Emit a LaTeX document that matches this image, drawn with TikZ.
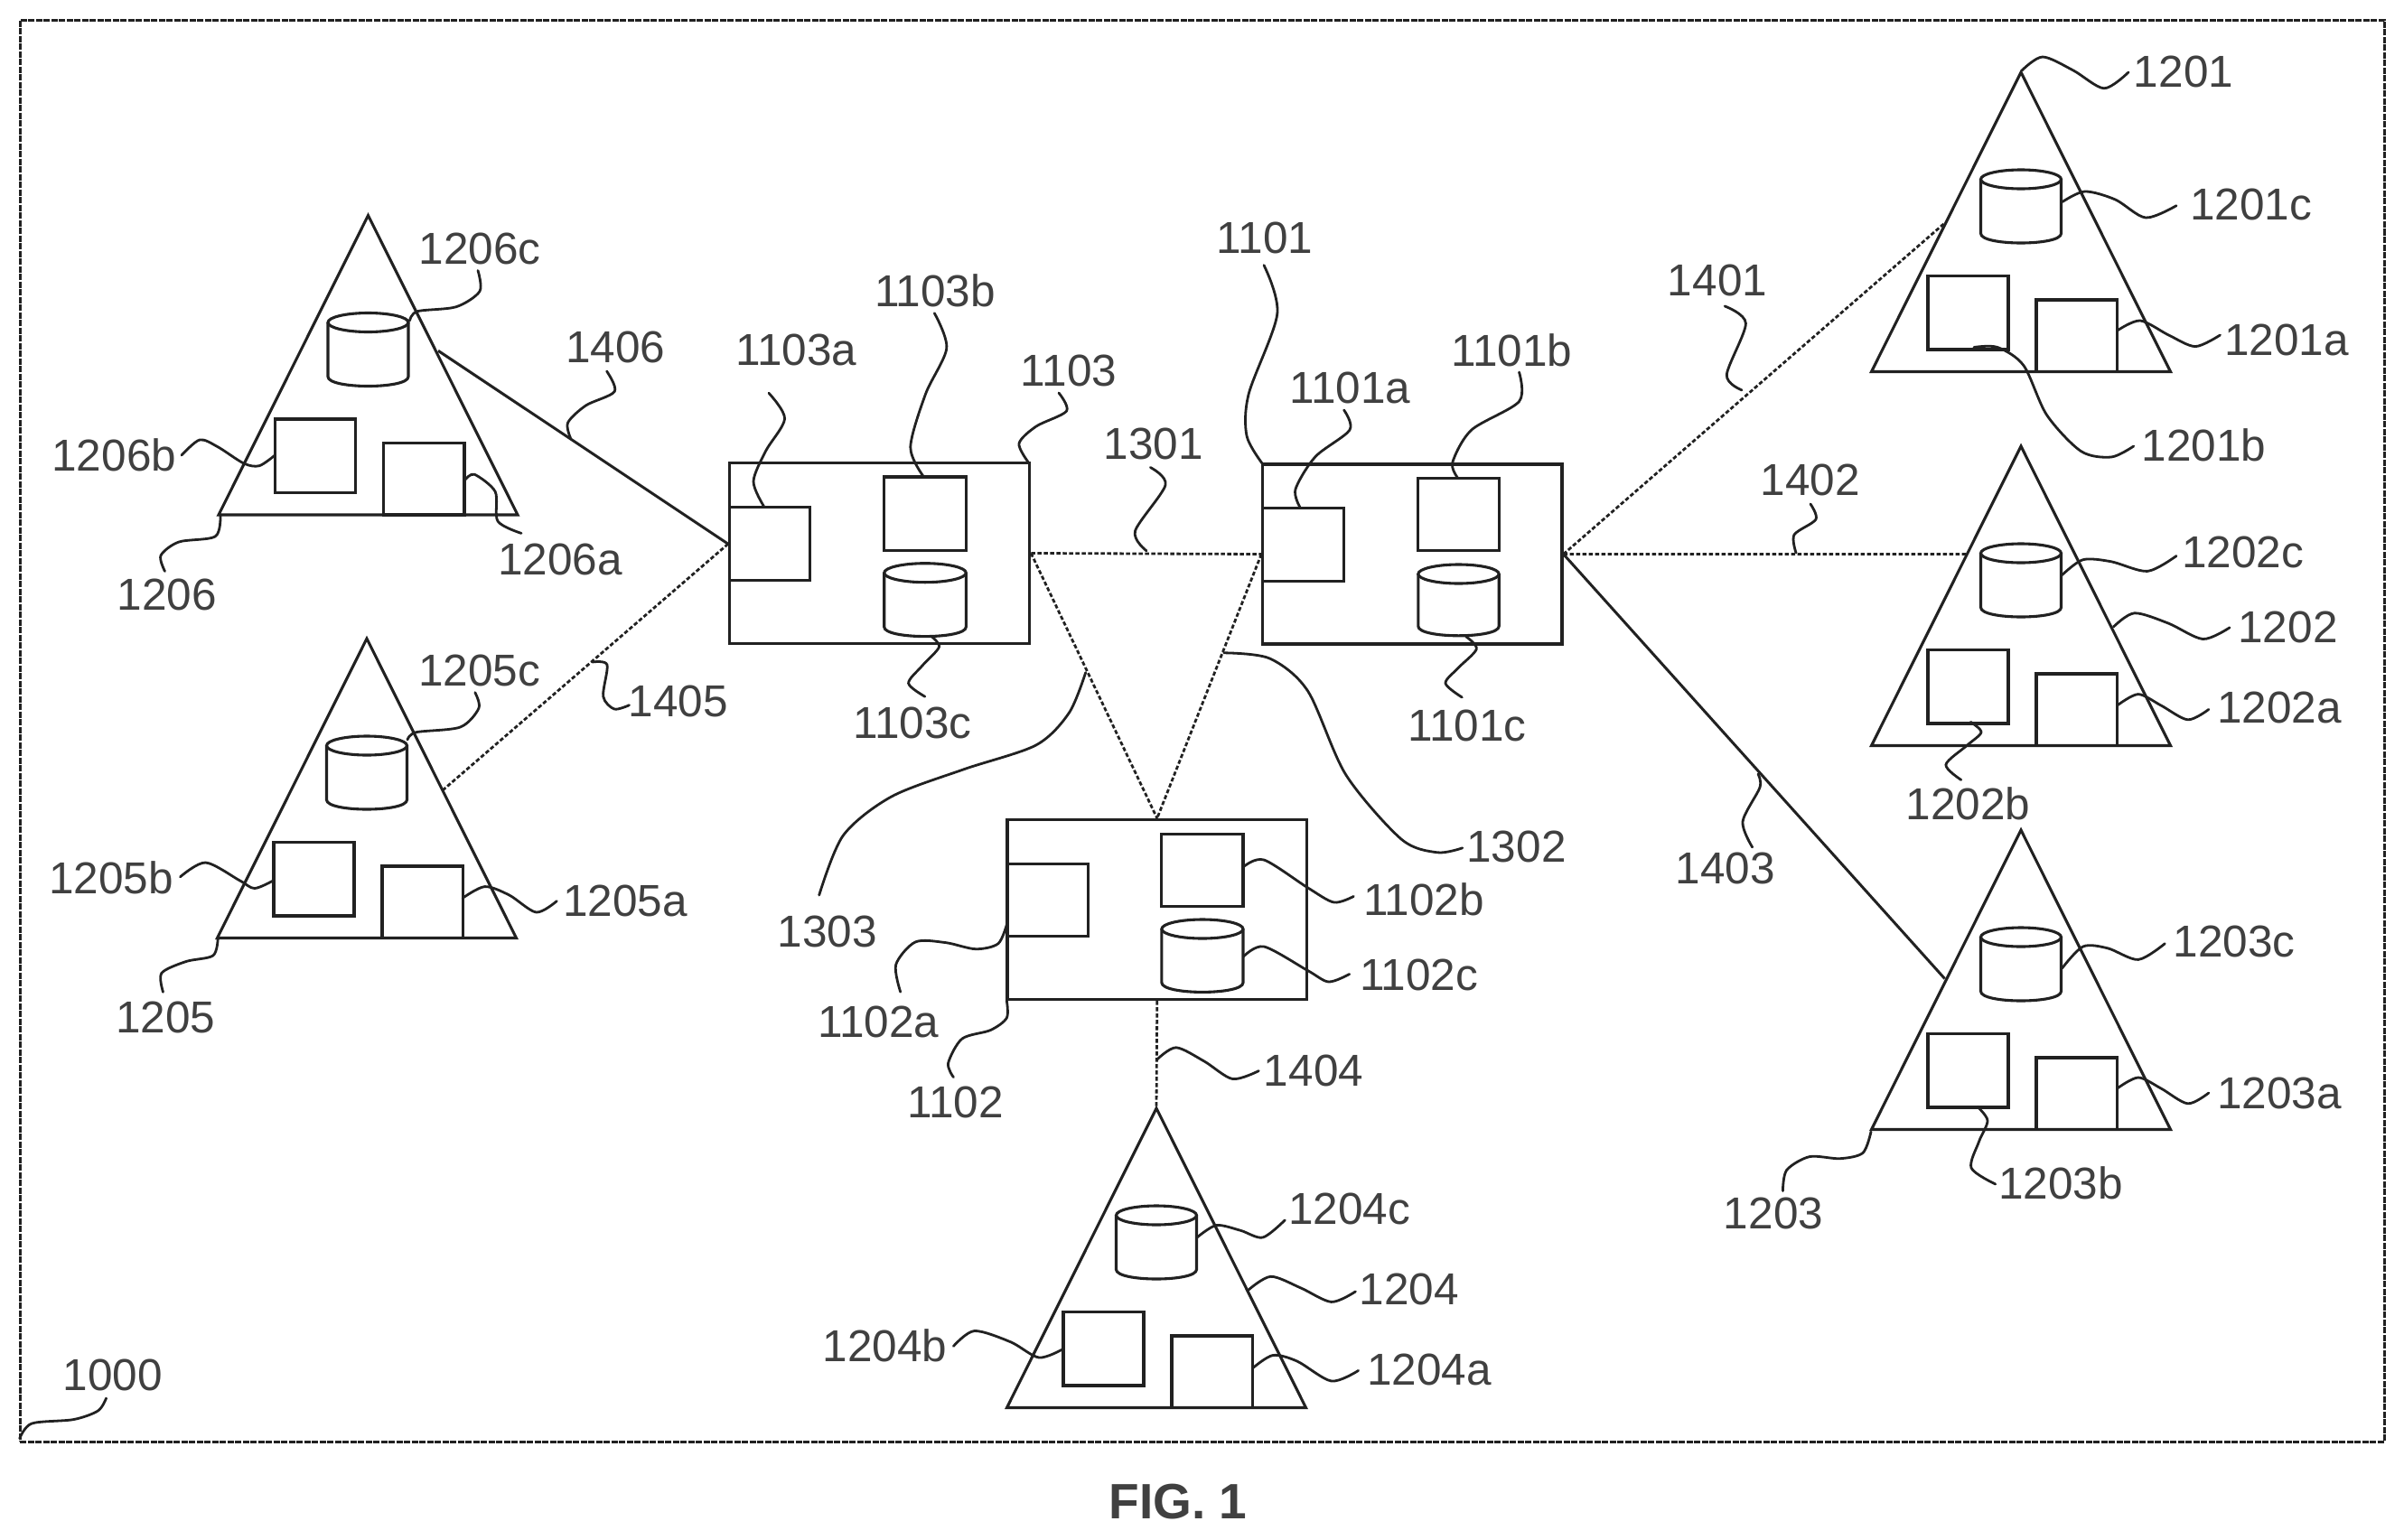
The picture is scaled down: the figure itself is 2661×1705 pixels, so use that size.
\documentclass[tikz,border=0pt]{standalone}
\usepackage{fontspec}
\setmainfont{Liberation Sans}
\usetikzlibrary{calc}
\definecolor{ink}{gray}{0.13}
\definecolor{txt}{gray}{0.25}
\tikzset{
 shp/.style={draw=ink,line width=3.1pt},
 boxs/.style={shp,rectangle,inner sep=0pt},
 framebox/.style={draw=ink,rectangle,inner sep=0pt,line width=3pt,dash pattern=on 7pt off 1.5pt},
 ghost/.style={rectangle,inner sep=0pt},
 link/.style={draw=ink,line width=3pt},
 dot/.style={draw=ink,line width=2.8pt,dash pattern=on 4.5pt off 2.5pt},
 lead/.style={draw=ink,line width=2.8pt,line cap=round},
 lab/.style={text=txt,inner sep=0pt,font=\fontsize{49.5}{52}\selectfont},
}
\newcommand{\sq}[5]{\node[boxs,minimum width={(#4)-(#2)},minimum height={(#5)-(#3)}] (#1) at ({((#2)+(#4))/2},{((#3)+(#5))/2}) {};}
\newcommand{\cyl}[5]{\node[ghost,minimum width={(#4)-(#2)},minimum height={(#5)-(#3)}] (#1) at ({((#2)+(#4))/2},{((#3)+(#5))/2}) {};
 \draw[shp] ({((#2)+(#4))/2},{(#3)+10.5}) ellipse [x radius={((#4)-(#2))/2},y radius=10.5];
 \draw[shp] (#2,{(#3)+10.5}) -- (#2,{(#5)-10.5}) .. controls (#2,{(#5)+3.5}) and (#4,{(#5)+3.5}) .. (#4,{(#5)-10.5}) -- (#4,{(#3)+10.5});}
\newcommand{\tri}[3]{\coordinate (t#1) at (#2,#3);
 \coordinate (t#1l) at ({#2-165.5},{#3+331.5}); \coordinate (t#1r) at ({#2+165.5},{#3+331.5});
 \draw[shp,line join=miter] (t#1)--(t#1l)--(t#1r)--cycle;
 \sq{n#1b}{#2-103}{#3+225.5}{#2-14}{#3+307}
 \sq{n#1a}{#2+17}{#3+252}{#2+106.5}{#3+331.5}
 \cyl{n#1c}{#2-44.5}{#3+108}{#2+44.5}{#3+189}}
\newcommand{\lb}[3]{\node[lab] (l#3) at (#1,#2) {#3};}
\newcommand{\ld}[1]{\draw[lead] plot[smooth] coordinates {#1};}
\begin{document}
\begin{tikzpicture}[x=1pt,y=-1pt]
\useasboundingbox (0,0) rectangle (2661,1705);
\node[framebox,minimum width=2617pt,minimum height=1574pt] (frame) at (1330.5,809) {};
% main boxes
\sq{n1103}{807.5}{512.8}{1139.7}{712.2}\sq{n1103a}{807.5}{561.7}{896.9}{642.7}\sq{n1103b}{978.7}{528}{1069.3}{609.8}\cyl{n1103c}{978.7}{623.7}{1069.3}{704.6}
\sq{n1101}{1397.8}{514}{1729}{713}\sq{n1101a}{1397.8}{562.6}{1487.6}{643.5}\sq{n1101b}{1569.8}{529.7}{1659.2}{609.8}\cyl{n1101c}{1569.8}{625}{1659.2}{703.8}
\sq{n1102}{1115}{907.5}{1446.6}{1106.6}\sq{n1102a}{1115}{956.6}{1204.3}{1036.6}\sq{n1102b}{1285.9}{923.5}{1376}{1003.9}\cyl{n1102c}{1285.9}{1018}{1376}{1098.4}
% triangles
\tri{1201}{2237}{80}
\tri{1202}{2237}{494}
\tri{1203}{2237}{919}
\tri{1204}{1280}{1227}
\tri{1205}{406}{707}
\tri{1206}{407.5}{238.5}
% connectors
\coordinate (e1401) at (2153,246.6); \coordinate (e1402) at (2177,613.4); \coordinate (e1403) at (2152.6,1083.5);
\coordinate (e1405) at (490.5,874.5); \coordinate (e1406) at (485,388.3);
\draw[dot] (n1103.east) -- (n1101.west);
\draw[dot] (n1101.west) -- (n1102.north);
\draw[dot] (n1103.east) -- (n1102.north);
\draw[dot] (n1102.south) -- (t1204);
\draw[dot] (n1101.east) -- (e1401);
\draw[dot] (n1101.east) -- (e1402);
\draw[link] (n1101.east) -- (e1403);
\draw[dot] (n1103a.west) -- (e1405);
\draw[link] (n1103a.west) -- (e1406);
% labels
\lb{2417}{79.3}{1201}\lb{2491.6}{226.8}{1201c}\lb{2531}{376}{1201a}\lb{2439.5}{493}{1201b}
\lb{2482.7}{611.3}{1202c}\lb{2532.5}{694.8}{1202}\lb{2522.8}{783.3}{1202a}\lb{2178.6}{890}{1202b}
\lb{2473}{1042.6}{1203c}\lb{2522.8}{1210}{1203a}\lb{2281.2}{1309.3}{1203b}\lb{1963}{1343.8}{1203}
\lb{1493.8}{1338.4}{1204c}\lb{1559.7}{1427}{1204}\lb{1582}{1516.7}{1204a}\lb{979.5}{1489.7}{1204b}
\lb{124.7}{1522.4}{1000}\lb{530.6}{742.5}{1205c}\lb{123}{972}{1205b}\lb{692}{997.6}{1205a}\lb{183.4}{1126}{1205}
\lb{531}{275.4}{1206c}\lb{126.3}{504}{1206b}\lb{620}{619}{1206a}\lb{185}{658.5}{1206}
\lb{681.4}{384.5}{1406}\lb{751}{776}{1405}\lb{881.3}{387.6}{1103a}\lb{1035}{321.4}{1103b}\lb{1183}{410}{1103}\lb{1009.9}{800.8}{1103c}
\lb{1276.7}{491.7}{1301}\lb{1400}{263}{1101}\lb{1494.3}{429.8}{1101a}\lb{1673.5}{387.6}{1101b}\lb{1623.8}{803.7}{1101c}
\lb{1901}{310.5}{1401}\lb{2003.6}{531.5}{1402}\lb{1909.8}{961}{1403}\lb{1678.5}{937}{1302}\lb{916}{1031.4}{1303}
\lb{1576}{996}{1102b}\lb{1570.6}{1079}{1102c}\lb{972.3}{1131.4}{1102a}\lb{1057.5}{1220.7}{1102}\lb{1454}{1185.6}{1404}
\node[text=txt,inner sep=0pt,font=\fontsize{55}{58}\selectfont\bfseries] (cap) at (1304,1663) {FIG. 1};
% leaders
\ld{(2238,78) (2261,63) (2295,78) (2329,97.8) (2356,80)}
\ld{(2283,223.4) (2307.8,212) (2341.5,221) (2375,241) (2409,227.7)}
\ld{(2343.6,366) (2369,355) (2400.5,371) (2430,383.6) (2457.4,371)}
\ld{(2185,384.5) (2211,384.5) (2240,404.7) (2265.6,459.5) (2303.5,499.6) (2337,506) (2361.7,494)}
\ld{(2282.5,636.6) (2305.6,619.7) (2337,621.8) (2377,632.4) (2409,615.5)}
\ld{(2339.4,694) (2362.6,678.8) (2400,690) (2438.4,707.5) (2468,694.8)}
\ld{(2343.6,781) (2366.8,768.6) (2392,781) (2421.6,796.8) (2444.8,785.4)}
\ld{(2181.3,799.4) (2193,810.7) (2177,825.5) (2153.9,846.6) (2170.7,863.4)}
\ld{(2282.5,1072) (2305.6,1048) (2333,1049.8) (2366.8,1062.4) (2396.3,1044.7)}
\ld{(2343.6,1205) (2366.8,1193) (2392,1205) (2421.6,1221.8) (2444.8,1210)}
\ld{(2188.5,1225) (2200,1240.6) (2190.6,1263.7) (2182,1293) (2208.7,1311)}
\ld{(2071,1253) (2062,1276.4) (2036.7,1282.7) (2003,1280.6) (1977.7,1295.4) (1973.4,1318.5)}
\ld{(1325,1370) (1346.4,1356.6) (1373.2,1362.3) (1397.8,1370) (1422.3,1350.8)}
\ld{(1382,1428) (1406.7,1413.3) (1440,1426) (1473.7,1441.4) (1500.4,1429.9)}
\ld{(1386.6,1514.7) (1408.9,1500.5) (1435.7,1507) (1473.7,1529) (1503.6,1517.4)}
\ld{(1176.8,1493.5) (1150,1503) (1118.8,1485.8) (1078.6,1473.5) (1055.4,1490.4)}
\ld{(21.7,1592.6) (35.2,1576) (81.3,1571.6) (108.4,1562) (117.6,1548)}
\ld{(451,819) (460.7,810.7) (509.5,805) (530,784) (525.8,766.7)}
\ld{(655.8,733) (672,736) (667.7,771) (680,785) (696.5,780.7)}
\ld{(302.4,975) (281.8,983.5) (265.6,975) (227.6,955) (199.5,970.8)}
\ld{(512,994.4) (536.6,981.6) (563.7,991) (593.5,1010) (616.3,997.6)}
\ld{(241.2,1039) (235.8,1058) (206,1064.5) (178.9,1077.3) (180.5,1098.3)}
\ld{(453.5,355) (462,344.7) (505,339.7) (531,322.5) (529,299.5)}
\ld{(631.5,485) (628.6,467.9) (648.7,448.8) (680.3,433.4) (671.6,411)}
\ld{(304.3,504) (287,515.7) (269.8,513) (241,494.7) (221,487) (201,504)}
\ld{(515,531) (525.3,525.3) (548.2,544.4) (551,577) (577,590.4)}
\ld{(244,571.2) (238.2,594) (198,600) (178,615) (182.5,632.5)}
\ld{(845.4,560.4) (834,533) (847.6,499.3) (868.6,463.5) (851,435.2)}
\ld{(1022.5,528) (1007.8,495) (1024.6,436) (1047.8,385.5) (1034.3,346.7)}
\ld{(1138.4,512) (1128,491) (1147,472) (1180.6,455) (1172,435)}
\ld{(1269,609.8) (1256.5,587.9) (1290,537) (1273.4,517.5)}
\ld{(1031,704.6) (1039.4,716.4) (1020.4,737.5) (1005.6,756.5) (1023.8,771.2)}
\ld{(1201.7,744.6) (1183.3,789.3) (1146.7,825) (1066.7,851.8) (986.7,882) (933.3,925) (906.7,991)}
\ld{(1115,1021.4) (1105,1044.6) (1080,1050.7) (1046.7,1043.6) (1013.3,1042.9) (991.7,1067.9) (996.7,1098.2)}
\ld{(1114.3,1107.7) (1114.3,1127) (1096.4,1140.5) (1065,1150) (1049.6,1177) (1055.4,1192.6)}
\ld{(1397.8,514) (1380,482.5) (1382.2,436) (1413.8,347.6) (1399,293.6)}
\ld{(1439,561.7) (1434,541.5) (1456,505.6) (1494,476) (1487.6,454)}
\ld{(1614,529.7) (1607.8,512) (1628.8,476) (1681.5,444.5) (1681.5,412)}
\ld{(1928,431.9) (1911.3,415) (1932.4,358) (1909.2,339)}
\ld{(1622.5,704.6) (1634.3,718.5) (1614,739.6) (1600,756.5) (1618.3,772)}
\ld{(1354.8,722.8) (1405.4,729) (1447.6,765) (1489.7,857.7) (1551,929) (1591,943.8) (1618.8,938.8)}
\ld{(1376,960) (1399,952) (1447.8,983) (1476.5,999) (1498.3,992.4)}
\ld{(1376,1059.4) (1399,1048) (1447.8,1074.7) (1470.7,1087) (1493.7,1078.5)}
\ld{(1280.4,1173.3) (1301.8,1159.8) (1333,1175) (1364.3,1194.5) (1393.3,1185.6)}
\ld{(1946,857) (1948,871.7) (1929,909.6) (1939.7,938)}
\ld{(1988,612) (1986,592) (2010,575) (2004,558)}
\end{tikzpicture}
\end{document}
